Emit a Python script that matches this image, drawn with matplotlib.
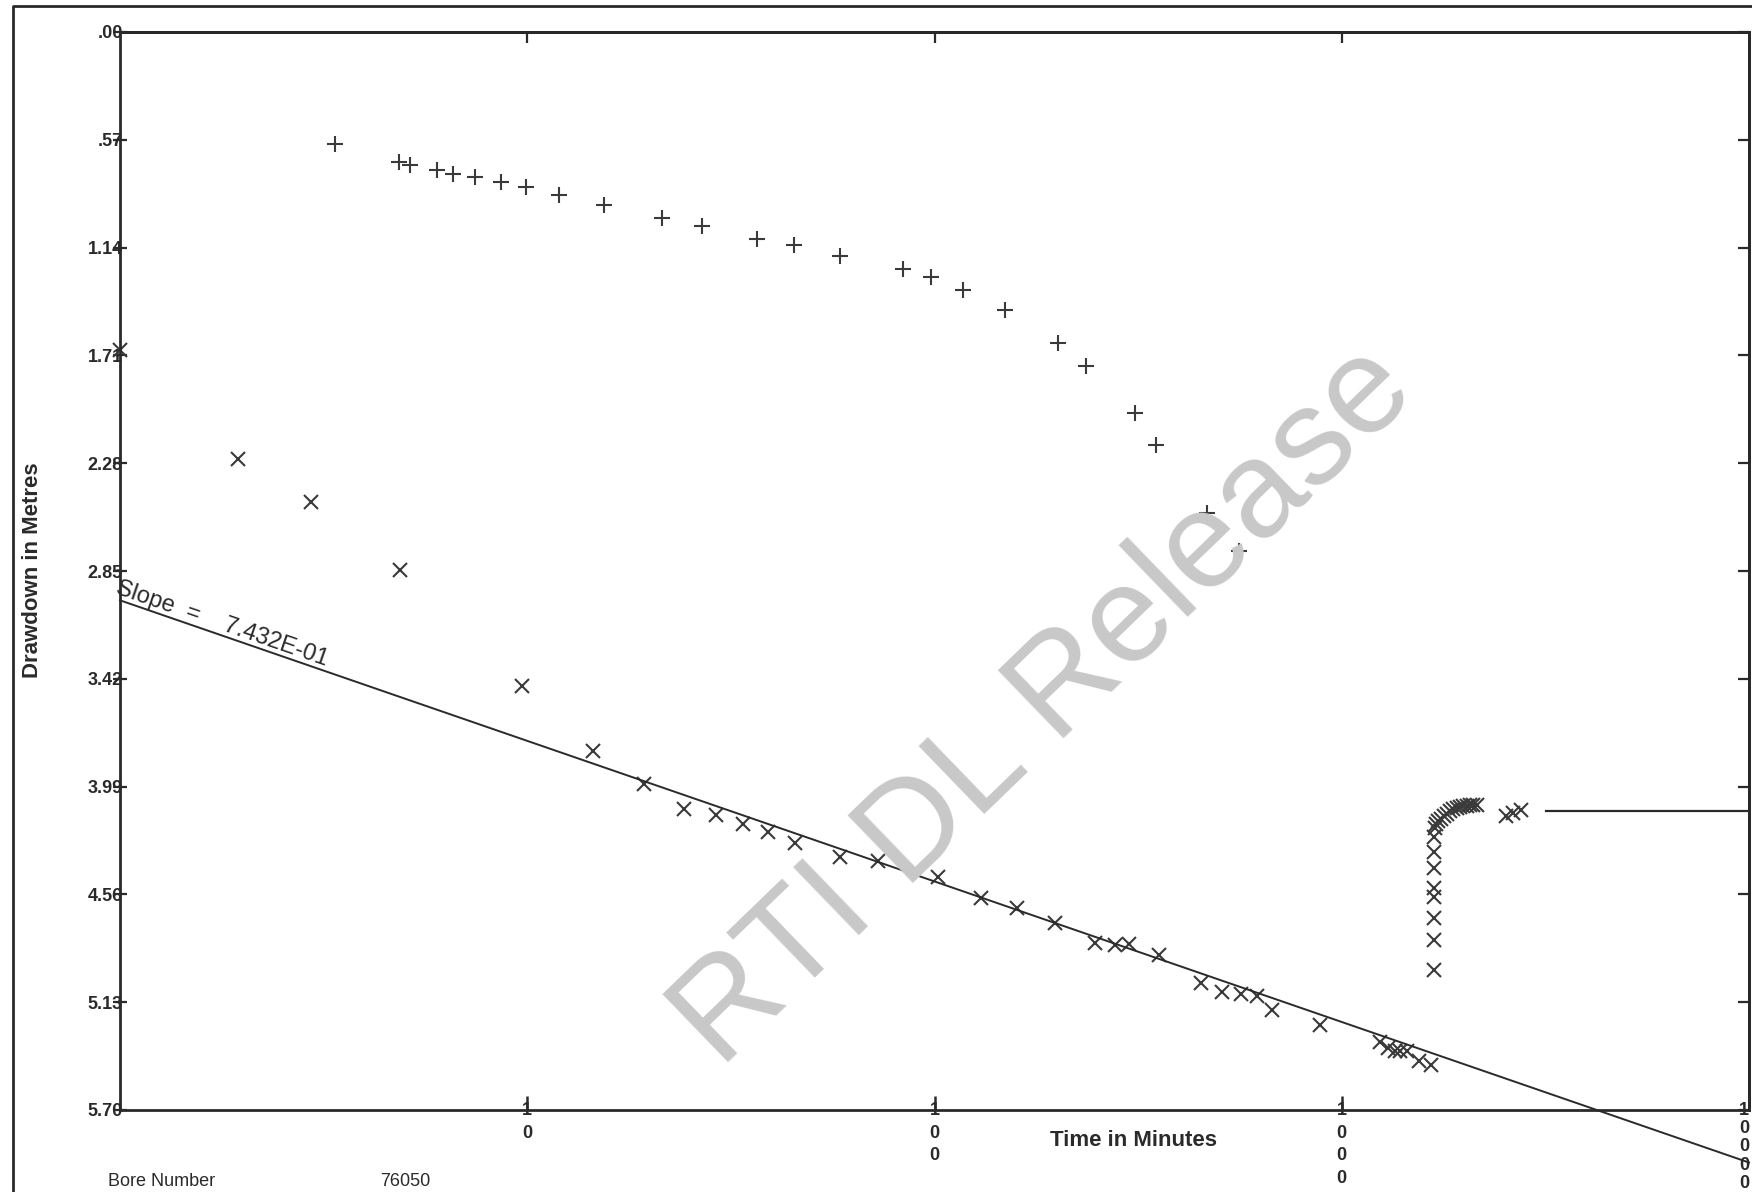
import matplotlib
matplotlib.use('Agg')
import matplotlib.pyplot as plt
from matplotlib.lines import Line2D
from matplotlib.ticker import NullLocator
import numpy as np

# ---------------- data ----------------
# observation-well drawdown (+)
obs_time = [3.37, 4.83, 5.15, 6.02, 6.58, 7.46, 8.62, 9.91, 11.97, 15.4, 21.4, 26.8,
            36.7, 45.2, 58.5, 83.7, 98.2, 117.8, 148.7, 201, 235.6, 310.6, 350,
            465.6, 558.5]
obs_drawdown = [0.590, 0.690, 0.702, 0.732, 0.749, 0.767, 0.791, 0.820, 0.861, 0.915,
                0.985, 1.027, 1.097, 1.127, 1.186, 1.251, 1.298, 1.363, 1.469, 1.646,
                1.764, 2.012, 2.183, 2.543, 2.744]

# pumping-well drawdown (x)
pump_time = [1.0, 1.95, 2.94, 4.86, 9.72, 14.5, 19.3, 24.2, 29.1, 33.8, 38.9, 45.5,
             58.5, 72.5, 101.9, 130.3, 159.3, 197.3, 247.5, 277.5, 301, 355, 451, 508,
             565, 621, 674, 885, 1242, 1299, 1349, 1392, 1446, 1549, 1660]
pump_drawdown = [1.682, 2.260, 2.484, 2.844, 3.458, 3.800, 3.977, 4.107, 4.142, 4.189,
                 4.231, 4.290, 4.361, 4.384, 4.467, 4.579, 4.632, 4.709, 4.815, 4.827,
                 4.821, 4.880, 5.027, 5.075, 5.086, 5.098, 5.169, 5.251, 5.340, 5.37,
                 5.39, 5.39, 5.39, 5.44, 5.46]

# recovery (x)
rec_time = [1683, 1683, 1683, 1683, 1683, 1683, 1683, 1686, 1694, 1700, 1727, 1750,
            1778, 1810, 1847, 1880, 1916, 1950, 1988, 2025, 2063, 2100, 2143, 2537,
            2636, 2762]
rec_drawdown = [4.958, 4.799, 4.683, 4.572, 4.525, 4.419, 4.335, 4.255, 4.209, 4.19,
                4.174, 4.16, 4.148, 4.135, 4.121, 4.11, 4.104, 4.10, 4.095, 4.09,
                4.086, 4.085, 4.086, 4.148, 4.130, 4.112]

# straight-line fit
fit_intercept = 3.005
fit_slope = 0.7432
fit_time = [1, 10000]

# end marker line
end_time = [3177, 10000]
end_level = [4.12, 4.12]

y_ticks = [0.00, 0.57, 1.14, 1.71, 2.28, 2.85, 3.42, 3.99, 4.56, 5.13, 5.70]
y_ticklabels = ['.00', '.57', '1.14', '1.71', '2.28', '2.85', '3.42', '3.99',
                '4.56', '5.13', '5.70']
x_ticks = [10, 100, 1000, 10000]
x_ticklabels = ['1\n0', '1\n0\n0', '1\n0\n0\n0', '1\n0\n0\n0\n0']

# ---------------- figure ----------------
ink = '#2a2a2a'
mk = '#3a3a3a'
plt.rcParams['font.family'] = ['Liberation Sans', 'DejaVu Sans']

fig = plt.figure(figsize=(17.52, 11.92), dpi=100)
L, R, B, T = 120 / 1752, 1749 / 1752, 1 - 1110 / 1192, 1 - 32 / 1192
ax = fig.add_axes([L, B, R - L, T - B])
ax.set_xscale('log')
ax.set_xlim(1, 10000)
ax.set_ylim(5.70, 0.0)

ax.plot(obs_time, obs_drawdown, linestyle='none', marker='+', ms=12, mew=1.5,
        color=mk, clip_on=False)
ax.plot(pump_time, pump_drawdown, linestyle='none', marker='x', ms=9.5, mew=1.5,
        color=mk, clip_on=False)
ax.plot(rec_time, rec_drawdown, linestyle='none', marker='x', ms=9.5, mew=1.5,
        color=mk, clip_on=False)

ft = np.array(fit_time, dtype=float)
ax.plot(ft, fit_intercept + fit_slope * np.log10(ft), color=ink, lw=1.4, clip_on=False)
ax.plot(end_time, end_level, color=ink, lw=1.6, clip_on=False)

ax.text(0.97, fit_intercept - 0.035, 'Slope  =    7.432E-01', rotation=-19.0,
        rotation_mode='anchor', ha='left', va='baseline', fontsize=17, color=ink)

for s in ax.spines.values():
    s.set_linewidth(2)
    s.set_color(ink)

ax.set_yticks(y_ticks)
ax.set_yticklabels(y_ticklabels, fontsize=13, fontweight='bold', color=ink)
ax.tick_params(axis='y', direction='inout', length=10, width=1.6, pad=-7, colors=ink)
ax.set_xticks(x_ticks)
ax.xaxis.set_minor_locator(NullLocator())
ax.set_xticklabels(x_ticklabels, fontsize=13, fontweight='bold', color=ink,
                   linespacing=1.45)
ax.tick_params(axis='x', direction='in', length=10, width=1.8, pad=-6, colors=ink)
last = ax.get_xticklabels()[-1]
last.set_linespacing(1.1)
last.set_horizontalalignment('right')

sec_r = ax.secondary_yaxis('right')
sec_r.set_yticks(y_ticks)
sec_r.set_yticklabels([])
sec_r.tick_params(direction='in', length=8, width=1.6, colors=ink)
sec_r.spines['right'].set_linewidth(2)

sec_t = ax.secondary_xaxis('top')
sec_t.set_xticks([10, 100, 1000])
sec_t.xaxis.set_minor_locator(NullLocator())
sec_t.set_xticklabels([])
sec_t.tick_params(direction='in', length=8, width=1.6, colors=ink)
sec_t.spines['top'].set_linewidth(2)

fig.text(1134 / 1752, 1 - 1140 / 1192, 'Time in Minutes', ha='center', va='center',
         fontsize=16, fontweight='bold', color=ink)
fig.text(33 / 1752, 1 - 570 / 1192, 'Drawdown in Metres', ha='center', va='center',
         rotation=90, fontsize=16, fontweight='bold', color=ink)
fig.text(108 / 1752, 2 / 1192, 'Bore Number', ha='left', va='bottom',
         fontsize=13, color=ink)
fig.text(380 / 1752, 2 / 1192, '76050', ha='left', va='bottom',
         fontsize=13, color=ink)

# outer frame
fig.add_artist(Line2D([13 / 1752, 13 / 1752, 1.0], [0.0, 1 - 6 / 1192, 1 - 6 / 1192],
                      transform=fig.transFigure, color=ink, lw=2))

# watermark
fig.text(1045 / 1752, 1 - 706 / 1192, 'RTI DL Release', rotation=44, fontsize=99,
         color='#c8c8c8', ha='center', va='center', zorder=20)

fig.savefig('out.png', dpi=100, facecolor='white')
